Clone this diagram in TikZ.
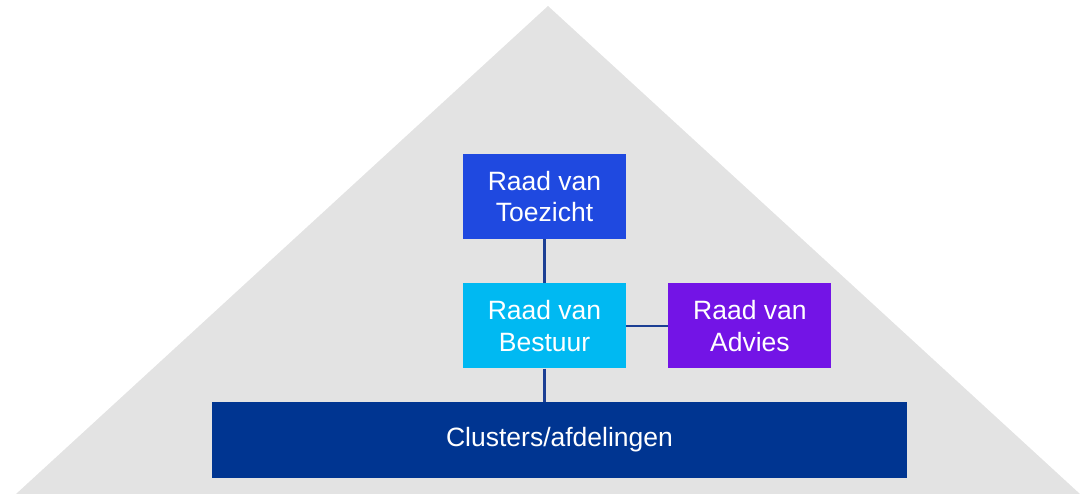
\documentclass[tikz,border=0pt]{standalone}
\usepackage{fontspec}
\setmainfont{Liberation Sans}
\usetikzlibrary{positioning}
\definecolor{toezicht}{RGB}{31,73,224}
\definecolor{bestuur}{RGB}{0,185,242}
\definecolor{advies}{RGB}{115,20,230}
\definecolor{clusters}{RGB}{0,53,145}
\definecolor{pyramid}{RGB}{227,227,227}
\definecolor{linkline}{RGB}{28,63,148}
\newcommand{\boxfont}{\fontsize{26.5}{31.5}\selectfont}

\begin{document}
\begin{tikzpicture}[
  x=1pt, y=-1pt,
  node distance=44pt and 42pt,
  orgbox/.style={text=white, align=center, font=\boxfont, inner sep=0pt, minimum width=163pt, minimum height=85pt},
  link/.style={draw=linkline, line width=2.5pt}
]
\useasboundingbox (0,0) rectangle (1086,493);
\fill[pyramid] (548,6) -- (1080,494) -- (16,494) -- cycle;
\node[orgbox, fill=toezicht] (rvt) at (544.5,196.5) {Raad van\\Toezicht};
\node[orgbox, fill=bestuur, below=of rvt] (rvb) {Raad van\\Bestuur};
\node[orgbox, fill=advies, right=of rvb] (rva) {Raad van\\Advies};
\node[orgbox, fill=clusters, minimum width=695pt, minimum height=76pt, below=33pt of rvb, xshift=15pt] (clus) {Clusters/afdelingen};
\draw[link] (rvt) -- (rvb);
\draw[link] (rvb) -- (rva);
\draw[link] (rvb.south) -- (rvb.south |- clus.north);
\end{tikzpicture}
\end{document}
